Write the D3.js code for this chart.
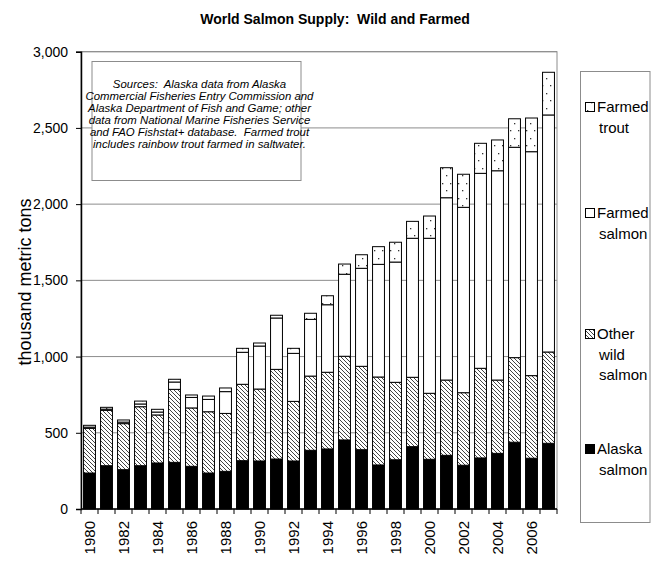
<!DOCTYPE html>
<html>
<head>
<meta charset="utf-8">
<script src="https://cdn.jsdelivr.net/npm/d3@7"></script>
<style>
  body { margin: 0; background: #fff; }
  svg { display: block; font-family: Arial, "Liberation Sans", sans-serif; }
  svg text { white-space: pre; }
</style>
</head>
<body>
<div id="chart"></div>
<script>
// thousand metric tons
const years = d3.range(1980, 2008);
const alaskaSalmon = [236, 284, 258, 284, 302, 306, 280, 236, 247, 317, 315, 328, 315, 385, 394, 453, 389, 289, 323, 409, 326, 352, 287, 335, 365, 438, 333, 431];
const otherWild = [293, 363, 302, 387, 315, 479, 383, 402, 380, 501, 472, 588, 391, 487, 503, 549, 547, 577, 508, 455, 433, 494, 476, 588, 481, 555, 542, 599];
const farmedSalmon = [8, 8, 10, 18, 19, 48, 69, 81, 143, 210, 282, 337, 315, 372, 443, 538, 643, 739, 789, 912, 1017, 1196, 1216, 1279, 1373, 1380, 1469, 1555];
const farmedTrout = [12, 12, 14, 19, 18, 18, 16, 22, 24, 26, 20, 18, 33, 40, 59, 67, 89, 116, 130, 111, 146, 197, 217, 197, 202, 187, 221, 280];
const yTicks = [0, 500, 1000, 1500, 2000, 2500, 3000];
const seriesKeys = ["alaska", "other", "salmon", "trout"];
const legendLabels = {
  trout: ["Farmed", "trout"],
  salmon: ["Farmed", "salmon"],
  other: ["Other", "wild", "salmon"],
  alaska: ["Alaska", "salmon"]
};
const note = [
  "Sources:  Alaska data from Alaska",
  "Commercial Fisheries Entry Commission and",
  "Alaska Department of Fish and Game; other",
  "data from National Marine Fisheries Service",
  "and FAO Fishstat+ database.  Farmed trout",
  "includes rainbow trout farmed in saltwater."
];

const rows = years.map((yr, i) => ({
  year: yr,
  alaska: alaskaSalmon[i],
  other: otherWild[i],
  salmon: farmedSalmon[i],
  trout: farmedTrout[i]
}));

const W = 655, H = 561;
const plot = { left: 81, right: 557, top: 51.7, bottom: 509 };

const svg = d3.select("#chart").append("svg")
  .attr("width", W)
  .attr("height", H);

const defs = svg.append("defs");
const hatch = defs.append("pattern")
  .attr("id", "hatch")
  .attr("patternUnits", "userSpaceOnUse")
  .attr("width", 4)
  .attr("height", 4);
hatch.append("rect").attr("width", 4).attr("height", 4).attr("fill", "#fff");
hatch.append("path")
  .attr("d", "M0,0 L4,4 M-1,3 L1,5 M3,-1 L5,1")
  .attr("stroke", "#444")
  .attr("stroke-width", 1);

const dots = defs.append("pattern")
  .attr("id", "dots")
  .attr("patternUnits", "userSpaceOnUse")
  .attr("width", 8)
  .attr("height", 15);
dots.append("rect").attr("width", 8).attr("height", 15).attr("fill", "#fff");
dots.append("rect").attr("x", 2).attr("y", 3).attr("width", 1.3).attr("height", 1.3).attr("fill", "#333");
dots.append("rect").attr("x", 6).attr("y", 10).attr("width", 1.3).attr("height", 1.3).attr("fill", "#333");

const fills = { alaska: "#000", other: "url(#hatch)", salmon: "#fff", trout: "url(#dots)" };

const x = d3.scaleBand()
  .domain(years)
  .range([plot.left, plot.right])
  .paddingInner(0.3)
  .paddingOuter(0.15);

const y = d3.scaleLinear()
  .domain([0, 3000])
  .range([plot.bottom, plot.top]);

// title
svg.append("text")
  .attr("x", 335)
  .attr("y", 24)
  .attr("text-anchor", "middle")
  .style("font-size", "14px")
  .style("font-weight", "bold")
  .text("World Salmon Supply:  Wild and Farmed");

// plot frame + gridlines
svg.append("rect")
  .attr("x", plot.left)
  .attr("y", plot.top)
  .attr("width", plot.right - plot.left)
  .attr("height", plot.bottom - plot.top)
  .attr("fill", "none")
  .attr("stroke", "#8c8c8c");

svg.append("g")
  .selectAll("line")
  .data(yTicks.filter(d => d > 0))
  .join("line")
    .attr("x1", plot.left)
    .attr("x2", plot.right)
    .attr("y1", d => y(d))
    .attr("y2", d => y(d))
    .attr("stroke", "#8c8c8c");

// notes box
const nb = { x: 92, y: 61.5, w: 209, h: 119 };
svg.append("rect")
  .attr("x", nb.x)
  .attr("y", nb.y)
  .attr("width", nb.w)
  .attr("height", nb.h)
  .attr("fill", "#fff")
  .attr("stroke", "#8c8c8c");

svg.append("g")
  .selectAll("text")
  .data(note)
  .join("text")
    .attr("x", nb.x + nb.w / 2 + 3)
    .attr("y", (d, i) => 87.5 + i * 12)
    .attr("text-anchor", "middle")
    .style("font-size", "11.4px")
    .style("font-style", "italic")
    .text(d => d);

// stacked bars
const stacked = d3.stack().keys(seriesKeys)(rows);

svg.append("g")
  .selectAll("g")
  .data(stacked)
  .join("g")
    .attr("fill", d => fills[d.key])
  .selectAll("rect")
  .data(d => d)
  .join("rect")
    .attr("x", d => x(d.data.year))
    .attr("width", x.bandwidth())
    .attr("y", d => y(d[1]))
    .attr("height", d => y(d[0]) - y(d[1]))
    .attr("stroke", "#000")
    .attr("stroke-width", 1);

// y axis
const yAxis = svg.append("g")
  .attr("transform", `translate(${plot.left},0)`)
  .call(d3.axisLeft(y)
    .tickValues(yTicks)
    .tickSize(5)
    .tickPadding(8)
    .tickFormat(d3.format(",")));
yAxis.select(".domain").attr("stroke", "#000").attr("stroke-width", 1.5);
yAxis.selectAll("text")
  .style("font-size", "14px")
  .style("font-family", "Arial, 'Liberation Sans', sans-serif")
  .attr("fill", "#000");

// x axis: ticks between categories, label every other year
const step = x.step();
const edges = years.map(d => x(d) - step * 0.15).concat([plot.right]);
const xg = svg.append("g");
xg.append("line")
  .attr("x1", plot.left)
  .attr("x2", plot.right)
  .attr("y1", plot.bottom)
  .attr("y2", plot.bottom)
  .attr("stroke", "#000")
  .attr("stroke-width", 1.5);
xg.selectAll(".tk")
  .data(edges)
  .join("line")
    .attr("class", "tk")
    .attr("x1", d => d)
    .attr("x2", d => d)
    .attr("y1", plot.bottom)
    .attr("y2", plot.bottom + 5)
    .attr("stroke", "#000");
xg.selectAll("text")
  .data(years.filter(d => d % 2 === 0))
  .join("text")
    .attr("transform", d => `translate(${x(d) + x.bandwidth() / 2},${plot.bottom + 12}) rotate(-90)`)
    .attr("text-anchor", "end")
    .attr("dy", "0.35em")
    .style("font-size", "15px")
    .text(d => d);

// y axis title
svg.append("text")
  .attr("transform", "translate(25,282) rotate(-90)")
  .attr("text-anchor", "middle")
  .attr("dy", "0.35em")
  .style("font-size", "18px")
  .text("thousand metric tons");

// legend
svg.append("rect")
  .attr("x", 580.5)
  .attr("y", 71.5)
  .attr("width", 69.5)
  .attr("height", 451)
  .attr("fill", "#fff")
  .attr("stroke", "#8c8c8c");

const legendY = { trout: 107, salmon: 213, other: 334, alaska: 449 };
const lg = svg.append("g")
  .selectAll("g")
  .data(["trout", "salmon", "other", "alaska"])
  .join("g")
    .attr("transform", d => `translate(585,${legendY[d]})`);

lg.append("rect")
  .attr("x", 0.5)
  .attr("y", -4.5)
  .attr("width", 9)
  .attr("height", 9)
  .attr("fill", d => fills[d])
  .attr("stroke", "#000");

lg.selectAll("text")
  .data(d => legendLabels[d].map((t, i) => ({ t, i })))
  .join("text")
    .attr("x", d => d.i === 0 ? 12 : 14)
    .attr("y", d => d.i * 20.5)
    .attr("dy", "0.36em")
    .style("font-size", "15px")
    .text(d => d.t);
</script>
</body>
</html>
